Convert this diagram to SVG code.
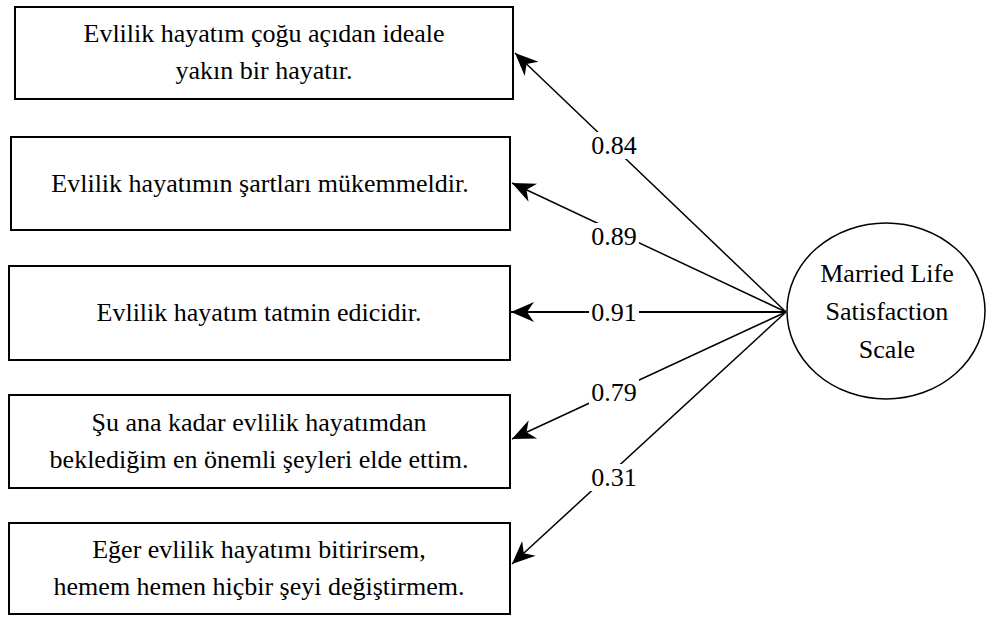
<svg xmlns="http://www.w3.org/2000/svg" width="988" height="617" viewBox="0 0 988 617">
<defs>
<style>
.box{fill:#fff;stroke:#000;stroke-width:2}
.t{font-family:'Liberation Serif','Times New Roman',serif;font-size:26px;fill:#000;text-anchor:middle}
.edge{stroke:#000;stroke-width:1.5;fill:none;marker-end:url(#ah)}
.bg{fill:#fff}
</style>
<marker id="ah" markerUnits="userSpaceOnUse" markerWidth="30" markerHeight="30" viewBox="-24 -12 30 24" refX="0" refY="0" orient="auto" overflow="visible">
<path d="M0,0 L-23,-10 L-16,0 L-23,10 Z" fill="#000"/>
</marker>
</defs>
<rect width="988" height="617" fill="#fff"/>
<g id="connectors">
<line class="edge" x1="786" y1="312" x2="515" y2="53"/>
<line class="edge" x1="786" y1="312" x2="512" y2="183"/>
<line class="edge" x1="786" y1="312" x2="511" y2="312" style="stroke-width:2.2"/>
<line class="edge" x1="786" y1="312" x2="512" y2="439"/>
<line class="edge" x1="786" y1="312" x2="512" y2="564"/>
<rect class="bg" x="589" y="132" width="50" height="27"/>
<text class="t" x="614" y="154">0.84</text>
<rect class="bg" x="589" y="223" width="50" height="27"/>
<text class="t" x="614" y="245">0.89</text>
<rect class="bg" x="589" y="299" width="50" height="26"/>
<text class="t" x="614" y="321">0.91</text>
<rect class="bg" x="589" y="379" width="50" height="27"/>
<text class="t" x="614" y="401">0.79</text>
<rect class="bg" x="589" y="464" width="50" height="27"/>
<text class="t" x="614" y="486">0.31</text>
</g>
<g id="item1">
<rect class="box" x="15" y="7" width="498" height="92"/>
<text class="t" x="264" y="42">Evlilik hayatım çoğu açıdan ideale</text>
<text class="t" x="264" y="79">yakın bir hayatır.</text>
</g>
<g id="item2">
<rect class="box" x="11" y="137" width="499" height="93"/>
<text class="t" x="260" y="192">Evlilik hayatımın şartları mükemmeldir.</text>
</g>
<g id="item3">
<rect class="box" x="9" y="266" width="501" height="94"/>
<text class="t" x="259" y="321">Evlilik hayatım tatmin edicidir.</text>
</g>
<g id="item4">
<rect class="box" x="9" y="395" width="501" height="93"/>
<text class="t" x="259" y="431">Şu ana kadar evlilik hayatımdan</text>
<text class="t" x="259" y="468">beklediğim en önemli şeyleri elde ettim.</text>
</g>
<g id="item5">
<rect class="box" x="9" y="523" width="501" height="91"/>
<text class="t" x="259" y="558">Eğer evlilik hayatımı bitirirsem,</text>
<text class="t" x="259" y="595">hemem hemen hiçbir şeyi değiştirmem.</text>
</g>
<g id="latent">
<ellipse cx="886" cy="311" rx="99" ry="88" fill="#fff" stroke="#000" stroke-width="1.5"/>
<text class="t" x="887" y="282">Married Life</text>
<text class="t" x="887" y="320">Satisfaction</text>
<text class="t" x="887" y="358">Scale</text>
</g>
</svg>
